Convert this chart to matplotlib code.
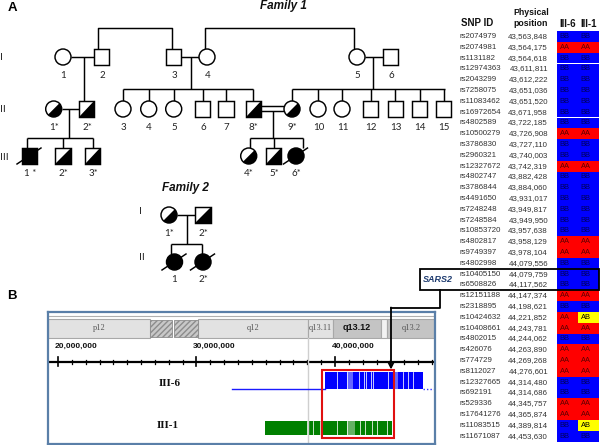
import matplotlib
matplotlib.use('Agg')
import matplotlib.pyplot as plt
from matplotlib.patches import Rectangle, Circle, Polygon
import numpy as np

# ---------------- Table data ----------------
snp_ids = ['rs2074979', 'rs2074981', 'rs1131182', 'rs12974363', 'rs2043299', 'rs7258075',
           'rs11083462', 'rs16972654', 'rs4802589', 'rs10500279', 'rs3786830', 'rs2960321',
           'rs12327672', 'rs4802747', 'rs3786844', 'rs4491650', 'rs7248248', 'rs7248584',
           'rs10853720', 'rs4802817', 'rs9749397', 'rs4802998', 'rs10405150', 'rs6508826',
           'rs12151188', 'rs2318895', 'rs10424632', 'rs10408661', 'rs4802015', 'rs426076',
           'rs774729', 'rs8112027', 'rs12327665', 'rs692191', 'rs529336', 'rs17641276',
           'rs11083515', 'rs11671087']
positions = [43563848, 43564175, 43564618, 43611811, 43612222, 43651036, 43651520, 43671958,
             43722185, 43726908, 43727110, 43740003, 43742319, 43882428, 43884060, 43931017,
             43949817, 43949950, 43957638, 43958129, 43978104, 44079556, 44079759, 44117562,
             44147374, 44198621, 44221852, 44243781, 44244062, 44263890, 44269268, 44276601,
             44314480, 44314686, 44345757, 44365874, 44389814, 44453630]
gt_iii6 = ['BB', 'AA', 'BB', 'BB', 'BB', 'BB', 'BB', 'BB', 'BB', 'AA', 'BB', 'BB', 'AA', 'BB',
           'BB', 'BB', 'BB', 'BB', 'BB', 'AA', 'AA', 'BB', 'BB', 'BB', 'AA', 'BB', 'AA', 'AA',
           'BB', 'AA', 'AA', 'AA', 'BB', 'BB', 'AA', 'AA', 'BB', 'BB']
gt_iii1 = ['BB', 'AA', 'BB', 'BB', 'BB', 'BB', 'BB', 'BB', 'BB', 'AA', 'BB', 'BB', 'AA', 'BB',
           'BB', 'BB', 'BB', 'BB', 'BB', 'AA', 'AA', 'BB', 'BB', 'BB', 'AA', 'BB', 'AB', 'AA',
           'BB', 'AA', 'AA', 'AA', 'BB', 'BB', 'AA', 'AA', 'AB', 'BB']
gt_colors = {'BB': '#0000ff', 'AA': '#ff0000', 'AB': '#ffff00'}
gt_textcolors = {'BB': '#00005a', 'AA': '#5a0000', 'AB': '#000000'}
sars2_rows = ['rs10405150', 'rs6508826']

# ---------------- Genome browser data (Mb) ----------------
major_ticks_mb = [20, 30, 40]
tick_labels = ['20,000,000', '30,000,000', '40,000,000']
bands = [  # (start, end, label, color, bold)
    (19.28, 26.64, 'p12', '#e2e2e2', False),
    (30.10, 38.05, 'q12', '#e2e2e2', False),
    (38.05, 39.86, 'q13.11', '#e2e2e2', False),
    (39.86, 43.32, 'q13.12', '#c4c4c4', True),
    (43.32, 43.76, '', '#f2f2f2', False),
    (43.76, 47.22, 'q13.2', '#c4c4c4', False),
]
centromere = [(26.64, 28.23), (28.37, 30.10)]
iii6_line = (32.56, 39.28)
iii6_bar = (39.28, 46.35)
iii6_dots = (46.35, 47.2)
iii6_gaps = [40.14, 40.87, 41.73, 42.10, 42.24, 42.60, 42.75, 43.83, 44.90, 45.27, 45.63]
iii6_light = [(40.9, 41.3), (44.2, 44.55)]
iii1_bar = (34.95, 44.12)
iii1_gaps = [37.98, 38.41, 38.92, 40.14, 40.87, 41.80, 42.17, 42.67, 43.03, 43.75]
iii1_light = [(40.9, 41.44)]
region_box = (39.06, 44.26)
ref_line_mb = 38.05

# ---------------- Pedigree data ----------------
fam1_gen_y = {1: 57, 2: 109, 3: 156}
fam1 = [  # (label, x, gen, sex, status)  status: n normal, c carrier, a affected/deceased
    ('1', 63, 1, 'f', 'n'), ('2', 101.7, 1, 'm', 'n'), ('3', 173.7, 1, 'm', 'n'),
    ('4', 207, 1, 'f', 'n'), ('5', 357, 1, 'f', 'n'), ('6', 390.8, 1, 'm', 'n'),
    ('1*', 53.7, 2, 'f', 'c'), ('2*', 86.7, 2, 'm', 'c'), ('3', 123, 2, 'f', 'n'),
    ('4', 148.7, 2, 'f', 'n'), ('5', 173.7, 2, 'f', 'n'), ('6', 202.5, 2, 'm', 'n'),
    ('7', 226, 2, 'm', 'n'), ('8*', 253.3, 2, 'm', 'c'), ('9*', 292, 2, 'f', 'c'),
    ('10', 318, 2, 'f', 'n'), ('11', 342, 2, 'f', 'n'), ('12', 370.7, 2, 'm', 'n'),
    ('13', 395.3, 2, 'm', 'n'), ('14', 419.5, 2, 'm', 'n'), ('15', 443.5, 2, 'm', 'n'),
    ('1 *', 29.5, 3, 'm', 'a'), ('2*', 63, 3, 'm', 'c'), ('3*', 92.5, 3, 'm', 'c'),
    ('4*', 248.7, 3, 'f', 'c'), ('5*', 273.7, 3, 'm', 'c'), ('6*', 296, 3, 'f', 'a'),
]
fam2_gen_y = {1: 215, 2: 262}
fam2 = [
    ('1*', 169, 1, 'f', 'c'), ('2*', 203, 1, 'm', 'c'),
    ('1', 174.5, 2, 'f', 'a'), ('2*', 203, 2, 'f', 'a'),
]

fig = plt.figure(figsize=(6, 4.45), dpi=100)

# browser axes (added first so the overlay goes above it)
axb = fig.add_axes([48 / 600, 1 / 445, 387 / 600, 132 / 445])
ax = fig.add_axes([0, 0, 1, 1], zorder=5)
ax.set_xlim(0, 600)
ax.set_ylim(445, 0)
ax.axis('off')
ax.patch.set_alpha(0)

LW = 1.05
H = 7.6   # half size of symbols
R = 8.0


def symbol(x, y, sex, status):
    if sex == 'm':
        if status == 'a':
            ax.add_patch(Rectangle((x - H, y - H), 2 * H, 2 * H, fc='black', ec='black', lw=LW, zorder=4))
        else:
            ax.add_patch(Rectangle((x - H, y - H), 2 * H, 2 * H, fc='white', ec='none', zorder=3))
            if status == 'c':
                ax.add_patch(Polygon([(x + H, y - H), (x + H, y + H), (x - H, y + H)],
                                     closed=True, fc='black', ec='none', zorder=3.5))
            ax.add_patch(Rectangle((x - H, y - H), 2 * H, 2 * H, fc='none', ec='black', lw=LW, zorder=4))
    else:
        if status == 'a':
            ax.add_patch(Circle((x, y), R, fc='black', ec='black', lw=LW, zorder=4))
        else:
            ax.add_patch(Circle((x, y), R, fc='white', ec='none', zorder=3))
            if status == 'c':
                t = np.radians(np.linspace(-45, 135, 60))
                pts = np.column_stack([x + R * np.cos(t), y + R * np.sin(t)])
                ax.add_patch(Polygon(pts, closed=True, fc='black', ec='none', zorder=3.5))
            ax.add_patch(Circle((x, y), R, fc='none', ec='black', lw=LW, zorder=4))
    if status == 'a':
        ax.plot([x - 12.5, x + 11.5], [y + 8, y - 8], color='black', lw=LW, zorder=5)


def line(xs, ys):
    ax.plot(xs, ys, color='black', lw=LW, zorder=2, solid_capstyle='butt')


lab_font = dict(family=['Lato', 'DejaVu Sans'], fontsize=7, ha='center', va='center', color='#222222')

for lab, x, g, sex, st in fam1:
    y = fam1_gen_y[g]
    symbol(x, y, sex, st)
    ax.text(x + 0.5, y + 18, lab, **lab_font)
for lab, x, g, sex, st in fam2:
    y = fam2_gen_y[g]
    symbol(x, y, sex, st)
    ax.text(x, y + 18, lab, **lab_font)

# Family 1 connecting lines
top1, top2, top3 = 57 - H, 109 - H, 156 - H
line([98.3, 98.3, 171.7, 171.7], [top1, 28.3, 28.3, top1])
line([205, 205, 354.3, 354.3], [57 - R, 28.3, 28.3, 57 - R])
line([63 + R, 101.7 - H], [57, 57])
line([84.3, 84.3], [57, top2])
line([173.7 + H, 207 - R], [57, 57])
line([190.7, 190.7], [57, 89.3])
line([123, 253.3], [89.3, 89.3])
for cx in [123, 148.7, 173.7, 202.5, 226, 253.3]:
    line([cx, cx], [89.3, top2])
line([357 + R, 390.8 - H], [57, 57])
line([373.3, 373.3], [57, 89.3])
line([292, 445], [89.3, 89.3])
for cx in [292, 318, 342, 370.7, 395.3, 419.5, 443.5]:
    line([cx, cx], [89.3, top2])
line([53.7 + R, 86.7 - H], [108.7, 108.7])
line([69, 69], [108.7, 137.7])
line([27, 92.5], [137.7, 137.7])
for cx in [27, 63, 92.5]:
    line([cx, cx], [137.7, top3])
line([253.3 + H, 292 - R], [106.2, 106.2])
line([253.3 + H, 292 - R], [110.8, 110.8])
line([273.3, 273.3], [110.8, 137.7])
line([249.5, 302.5], [137.7, 137.7])
for cx in [249.5, 273.7, 302.5]:
    line([cx, cx], [137.7, top3])

# Family 2 lines
line([169 + R, 203 - H], [215, 215])
line([186.7, 186.7], [215, 244])
line([171, 201.5], [244, 244])
for cx in [171, 201.5]:
    line([cx, cx], [244, 262 - R])

title_font = dict(family=['Liberation Sans', 'DejaVu Sans'], fontsize=8.5, fontweight='bold',
                  fontstyle='italic', ha='center', va='center', color='#111111')
ax.text(283, 6, 'Family 1', **title_font)
ax.text(185, 188, 'Family 2', **title_font)

gen_font = dict(family=['Lato', 'DejaVu Sans'], fontsize=7.5, ha='center', va='center', color='#222222')
ax.text(1.5, 58, 'I', **gen_font)
ax.text(2.5, 109, 'II', **gen_font)
ax.text(4, 157, 'III', **gen_font)
ax.text(140, 211, 'I', **gen_font)
ax.text(142, 257, 'II', **gen_font)

panel_font = dict(family=['Liberation Sans', 'DejaVu Sans'], fontsize=9.5, fontweight='bold',
                  ha='center', va='center')
ax.text(12, 8, 'A', **panel_font)
ax.text(12, 296, 'B', **panel_font)

# ---------------- Table ----------------
hdr = dict(family=['Liberation Sans', 'DejaVu Sans'], fontweight='bold', va='center', color='#111111')
ax.text(461, 23, 'SNP ID', fontsize=7, ha='left', **hdr)
ax.text(531, 12.5, 'Physical', fontsize=6.3, ha='center', **hdr)
ax.text(531, 24, 'position', fontsize=6.3, ha='center', **hdr)
ax.text(567.5, 24, 'III-6', fontsize=7, ha='center', **hdr)
ax.text(589, 24, 'III-1', fontsize=7, ha='center', **hdr)

y0, pitch = 36.5, 10.8
cell_x = [(557, 21), (578, 20.5)]
tf = dict(family=['Liberation Sans', 'DejaVu Sans'], fontsize=5.7, va='center', color='#333333')
for i, (sid, pos, g6, g1) in enumerate(zip(snp_ids, positions, gt_iii6, gt_iii1)):
    y = y0 + i * pitch
    ax.text(460, y, sid, ha='left', **tf)
    ax.text(548, y, f'{pos:,}', ha='right', **tf)
    for (cx, cw), g in zip(cell_x, [g6, g1]):
        ax.add_patch(Rectangle((cx, y - pitch / 2), cw, pitch, fc=gt_colors[g], ec='none', zorder=1))
        ax.text(cx + 2.5, y, g, ha='left', va='center', fontsize=5.4,
                family=['Liberation Sans', 'DejaVu Sans'], color=gt_textcolors[g], zorder=2)

# SARS2 box
i_a = snp_ids.index(sars2_rows[0])
i_b = snp_ids.index(sars2_rows[1])
yt = y0 + i_a * pitch - pitch / 2 - 0.2
yb = y0 + i_b * pitch + pitch / 2 + 0.2
ax.add_patch(Rectangle((420, yt), 178.5, yb - yt, fc='none', ec='black', lw=1.3, zorder=6))
ax.text(438, (yt + yb) / 2, 'SARS2', fontsize=6.5, fontweight='bold', fontstyle='italic',
        family=['Liberation Sans', 'DejaVu Sans'], color='#1f3c70', ha='center', va='center', zorder=6)
ax.plot([440, 440, 391], [yb, 307.5, 307.5], color='black', lw=1.3, zorder=6)
ax.annotate('', xy=(391, 369.5), xytext=(391, 307.5),
            arrowprops=dict(arrowstyle='->', lw=1.3, color='black', shrinkA=0, shrinkB=0,
                            mutation_scale=9), zorder=6)

# ---------------- Genome browser ----------------
axb.set_xlim(19.28, 47.22)
axb.set_ylim(444, 312)
axb.set_xticks([])
axb.set_yticks([])
for s in axb.spines.values():
    s.set_color('#5a7fa8')
    s.set_linewidth(1.6)

axb.plot([19.28, 47.22], [316, 316], color='#b0b0b0', lw=0.8)
for a, b, lab, col, bold in bands:
    axb.add_patch(Rectangle((a, 319), b - a, 19, fc=col, ec='#a8a8a8', lw=0.8))
    if lab:
        if bold:
            axb.text((a + b) / 2, 327.5, lab, fontsize=6.5, fontweight='bold', ha='center', va='center',
                     family=['Liberation Sans', 'DejaVu Sans'], color='#111111')
        else:
            axb.text((a + b) / 2, 328, lab, fontsize=6, ha='center', va='center',
                     family=['Liberation Serif', 'DejaVu Serif'], color='#555555')
for a, b in centromere:
    axb.add_patch(Rectangle((a, 320), b - a, 17, fc='#c8c8c8', ec='#8c8c8c', lw=0.6, hatch='//////'))

for mb, lab in zip(major_ticks_mb, tick_labels):
    axb.text(mb - 0.25, 346, lab, fontsize=6, fontweight='bold', ha='left', va='center',
             family=['Liberation Sans', 'DejaVu Sans'], color='#111111')
axb.plot([19.28, 47.22], [362, 362], color='black', lw=1.6)
for mb in range(20, 48):
    if mb in major_ticks_mb:
        axb.plot([mb, mb], [357, 366], color='black', lw=1.2)
    else:
        axb.plot([mb, mb], [360, 364], color='black', lw=0.9)
axb.plot([ref_line_mb, ref_line_mb], [338, 444], color='#cfcfcf', lw=1)

# III-6 track
axb.plot(list(iii6_line), [389, 389], color='#1a1aff', lw=1)
axb.add_patch(Rectangle((iii6_bar[0], 372), iii6_bar[1] - iii6_bar[0], 17, fc='#0000ff', ec='none'))
for a, b in iii6_light:
    axb.add_patch(Rectangle((a, 372), b - a, 17, fc='white', ec='none', alpha=0.4))
for g in iii6_gaps:
    axb.plot([g, g], [372, 389], color='white', lw=0.55)
axb.plot(list(iii6_dots), [389, 389], color='#3333ff', lw=1, ls=(0, (1, 1.5)))

# III-1 track
axb.add_patch(Rectangle((iii1_bar[0], 421), iii1_bar[1] - iii1_bar[0], 14, fc='#008000', ec='none'))
for a, b in iii1_light:
    axb.add_patch(Rectangle((a, 421), b - a, 14, fc='white', ec='none', alpha=0.4))
for g in iii1_gaps:
    axb.plot([g, g], [421, 435], color='white', lw=0.55)

axb.add_patch(Rectangle((region_box[0], 370), region_box[1] - region_box[0], 68,
                        fc='none', ec='#e01010', lw=1.5, zorder=5))

sf = dict(family=['Liberation Serif', 'DejaVu Serif'], fontsize=8, fontweight='bold',
          ha='center', va='center', color='#111111')
axb.text(28.1, 383, 'III-6', **sf)
axb.text(27.95, 425, 'III-1', **sf)

fig.savefig('out.png', dpi=100)
